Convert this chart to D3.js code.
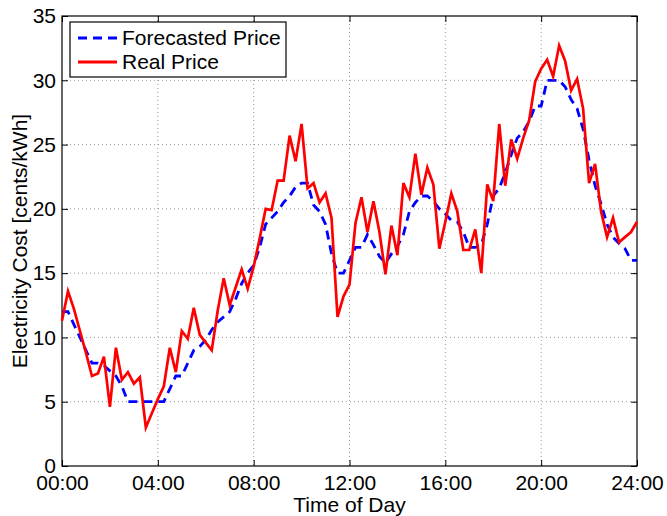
<!DOCTYPE html>
<html>
<head>
<meta charset="utf-8">
<script src="https://cdn.jsdelivr.net/npm/d3@7"></script>
<style>
  body { margin: 0; background: #fff; }
  text { font-family: "Liberation Sans", Arial, sans-serif; }
</style>
</head>
<body>
<div id="chart"></div>
<script>
// quarter-hour samples, 00:00 .. 24:00
var stepHours = 0.25;

var forecastPrice = [12, 12, 11, 10, 9, 8, 8, 7.8, 7.4, 7, 6.2, 5, 5, 5, 5, 5, 5, 5, 6, 7,
  7, 8, 9, 9.3, 9.8, 10.6, 11.2, 11.6, 12, 13, 14.2, 15, 15.6, 17, 18.8, 19.3, 19.8, 20.5, 21, 21.7,
  22, 22, 20.3, 19.8, 18.8, 16.5, 15, 15, 16, 17, 17, 18, 17.2, 16.3, 15.8, 16.5, 17.1, 18, 19.8, 20.5,
  21, 21, 20.6, 20, 19.6, 19.1, 19, 18.2, 17, 17, 17.2, 18.8, 21, 21.6, 22.8, 24.2, 25.5, 26, 26.8, 28,
  28, 30, 30, 30, 29.5, 28.5, 27.8, 26.2, 23.8, 21.8, 20.4, 18.8, 17.8, 17.3, 16.9, 16, 16];

var realPrice = [11.3, 13.6, 12.2, 10.5, 8.8, 7.0, 7.2, 8.5, 4.6, 9.2, 6.7, 7.3, 6.4, 6.9, 3.0, 4.1, 5.2, 6.2, 9.2, 7.3,
  10.5, 9.9, 12.3, 10.2, 9.6, 9.0, 12.1, 14.6, 12.5, 13.9, 15.3, 13.8, 15.5, 17.7, 20.0, 19.9, 22.2, 22.2, 25.7, 23.7,
  26.6, 21.6, 22.0, 20.5, 21.2, 19.3, 11.6, 13.2, 14.1, 18.9, 20.9, 18.2, 20.6, 18.2, 14.9, 18.7, 16.4, 22.0, 20.9, 24.3,
  21.1, 23.2, 21.9, 16.9, 19.0, 21.2, 19.8, 16.8, 16.8, 18.4, 15.0, 21.9, 20.6, 26.6, 21.8, 25.4, 23.9, 25.5, 26.9, 29.9,
  30.9, 31.6, 30.3, 32.7, 31.5, 29.2, 30.1, 27.8, 22.0, 23.5, 19.8, 17.8, 19.3, 17.4, 17.8, 18.2, 19.0];

var xTicks = [0, 4, 8, 12, 16, 20, 24];
var yTicks = [0, 5, 10, 15, 20, 25, 30, 35];
var seriesNames = ["Forecasted Price", "Real Price"];

var w = 667, h = 516;
var margin = {top: 16, right: 30, bottom: 50, left: 62};
var iw = w - margin.left - margin.right;
var ih = h - margin.top - margin.bottom;
var fontSize = "21px";

var svg = d3.select("#chart").append("svg")
  .attr("width", w)
  .attr("height", h);

var g = svg.append("g")
  .attr("transform", "translate(" + margin.left + "," + margin.top + ")");

var x = d3.scaleLinear().domain([0, 24]).range([0, iw]);
var y = d3.scaleLinear().domain([0, 35]).range([ih, 0]);

var fmtTime = function(d) { return (d < 10 ? "0" : "") + d + ":00"; };

// dotted grid
g.append("g").selectAll("line")
  .data(xTicks.slice(1, -1))
  .enter().append("line")
  .attr("x1", function(d) { return x(d); })
  .attr("x2", function(d) { return x(d); })
  .attr("y1", 0).attr("y2", ih)
  .attr("stroke", "#999").attr("stroke-width", 1)
  .attr("stroke-dasharray", "1,3");

g.append("g").selectAll("line")
  .data(yTicks.slice(1, -1))
  .enter().append("line")
  .attr("y1", function(d) { return y(d); })
  .attr("y2", function(d) { return y(d); })
  .attr("x1", 0).attr("x2", iw)
  .attr("stroke", "#999").attr("stroke-width", 1)
  .attr("stroke-dasharray", "1,3");

// axes, ticks pointing inward
var xAxis = g.append("g")
  .attr("transform", "translate(0," + ih + ")")
  .call(d3.axisBottom(x).tickValues(xTicks).tickFormat(fmtTime).tickSizeInner(-6).tickSizeOuter(0).tickPadding(9));
var xAxisTop = g.append("g")
  .call(d3.axisTop(x).tickValues(xTicks).tickFormat("").tickSizeInner(-6).tickSizeOuter(0));
var yAxis = g.append("g")
  .call(d3.axisLeft(y).tickValues(yTicks).tickSizeInner(-6).tickSizeOuter(0).tickPadding(6));
var yAxisRight = g.append("g")
  .attr("transform", "translate(" + iw + ",0)")
  .call(d3.axisRight(y).tickValues(yTicks).tickFormat("").tickSizeInner(-6).tickSizeOuter(0));

[xAxis, xAxisTop, yAxis, yAxisRight].forEach(function(a) {
  a.select(".domain").remove();
  a.selectAll("line").attr("stroke", "#000");
  a.selectAll("text").attr("font-size", fontSize).attr("fill", "#000")
    .attr("font-family", "'Liberation Sans', Arial, sans-serif");
});

// frame
g.append("rect")
  .attr("x", 0).attr("y", 0)
  .attr("width", iw).attr("height", ih)
  .attr("fill", "none").attr("stroke", "#000").attr("stroke-width", 1.2);

// lines
var lineF = d3.line()
  .x(function(d, i) { return x(i * stepHours); })
  .y(function(d) { return y(d); });

g.append("path")
  .datum(forecastPrice)
  .attr("d", lineF)
  .attr("fill", "none")
  .attr("stroke", "#0000ff")
  .attr("stroke-width", 2.8)
  .attr("stroke-dasharray", "9,6");

g.append("path")
  .datum(realPrice)
  .attr("d", lineF)
  .attr("fill", "none")
  .attr("stroke", "#ff0000")
  .attr("stroke-width", 2.7)
  .attr("stroke-linejoin", "miter");

// legend
var leg = g.append("g").attr("transform", "translate(8,6)");
leg.append("rect")
  .attr("width", 216).attr("height", 55)
  .attr("fill", "#fff").attr("stroke", "#000").attr("stroke-width", 1.2);
leg.selectAll(".lk")
  .data(seriesNames)
  .enter().append("line")
  .attr("x1", 8).attr("x2", 47)
  .attr("y1", function(d, i) { return 16 + i * 24; })
  .attr("y2", function(d, i) { return 16 + i * 24; })
  .attr("stroke", function(d, i) { return i === 0 ? "#0000ff" : "#ff0000"; })
  .attr("stroke-width", 2.8)
  .attr("stroke-dasharray", function(d, i) { return i === 0 ? "9,6" : null; });
leg.selectAll(".lt")
  .data(seriesNames)
  .enter().append("text")
  .attr("x", 52)
  .attr("y", function(d, i) { return 16 + i * 24; })
  .attr("dy", "0.35em")
  .attr("font-size", fontSize)
  .text(function(d) { return d; });

// axis titles
svg.append("text")
  .attr("x", margin.left + iw / 2)
  .attr("y", 512)
  .attr("text-anchor", "middle")
  .attr("font-size", fontSize)
  .text("Time of Day");

svg.append("text")
  .attr("transform", "rotate(-90)")
  .attr("x", -(margin.top + ih / 2))
  .attr("y", 27)
  .attr("text-anchor", "middle")
  .attr("font-size", fontSize)
  .text("Electricity Cost [cents/kWh]");
</script>
</body>
</html>
